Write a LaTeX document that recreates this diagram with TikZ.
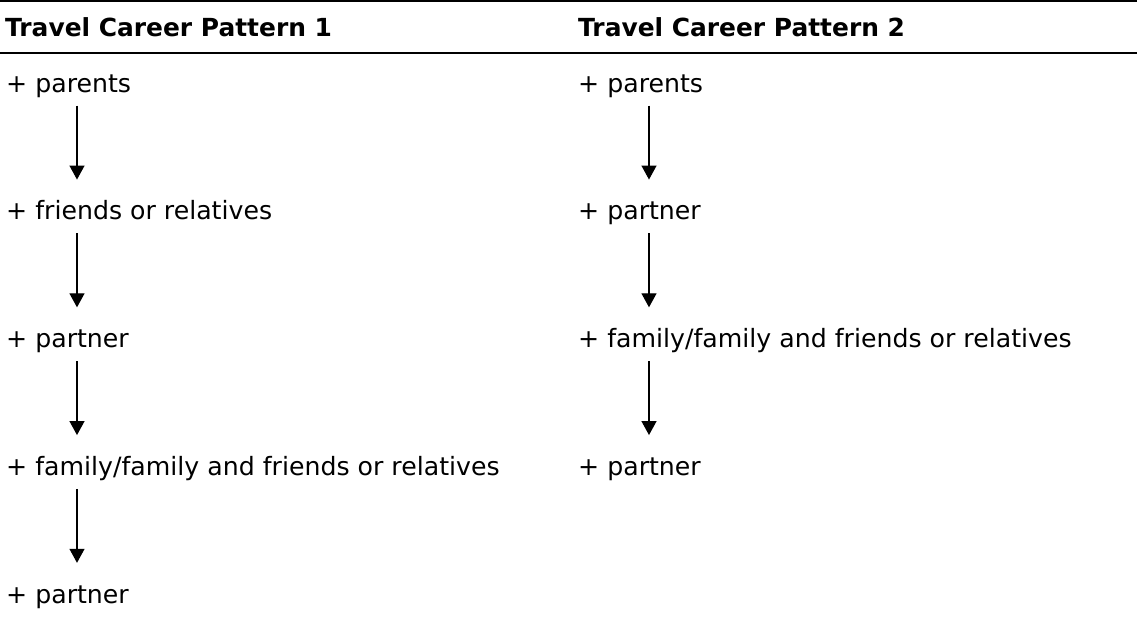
\documentclass[tikz,border=0pt]{standalone}
\usepackage{fontspec}
\setmainfont{DejaVu Sans}
\usetikzlibrary{arrows.meta}
\begin{document}
\begin{tikzpicture}[x=1pt,y=-1pt,
  entry/.style={anchor=base west, inner sep=0pt, text height=19pt, text depth=5pt,
                font=\fontsize{25.2}{30}\selectfont},
  head/.style={anchor=base west, inner sep=0pt, font=\fontsize{24.9}{30}\selectfont\bfseries},
  rulebar/.style={line width=2.2pt},
  flow/.style={-{Triangle[width=15pt,length=14pt]}, line width=1.3pt,
               shorten <=8.5pt, shorten >=21pt}]
\useasboundingbox (0,0) rectangle (1137,622);

% table rules
\draw[rulebar] (0,1.2) -- (1137,1.2);
\draw[rulebar] (0,53) -- (1137,53);

% column headings
\node[head] (h1) at (5,36) {Travel Career Pattern 1};
\node[head] (h2) at (578,36) {Travel Career Pattern 2};

% x positions of the arrow shafts
\coordinate (lx) at (77,0);
\coordinate (rx) at (649,0);

% pattern 1
\node[entry] (l1) at (6,92)      {+ parents};
\node[entry] (l2) at (6,219.75)  {+ friends or relatives};
\node[entry] (l3) at (6,347.5)   {+ partner};
\node[entry] (l4) at (6,475.25)  {+ family/family and friends or relatives};
\node[entry] (l5) at (6,603)     {+ partner};

% pattern 2
\node[entry] (r1) at (578,92)     {+ parents};
\node[entry] (r2) at (578,219.75) {+ partner};
\node[entry] (r3) at (578,347.5)  {+ family/family and friends or relatives};
\node[entry] (r4) at (578,475.25) {+ partner};

\draw[flow] (l1.south -| lx) -- (l2.north -| lx);
\draw[flow] (l2.south -| lx) -- (l3.north -| lx);
\draw[flow] (l3.south -| lx) -- (l4.north -| lx);
\draw[flow] (l4.south -| lx) -- (l5.north -| lx);

\draw[flow] (r1.south -| rx) -- (r2.north -| rx);
\draw[flow] (r2.south -| rx) -- (r3.north -| rx);
\draw[flow] (r3.south -| rx) -- (r4.north -| rx);
\end{tikzpicture}
\end{document}
